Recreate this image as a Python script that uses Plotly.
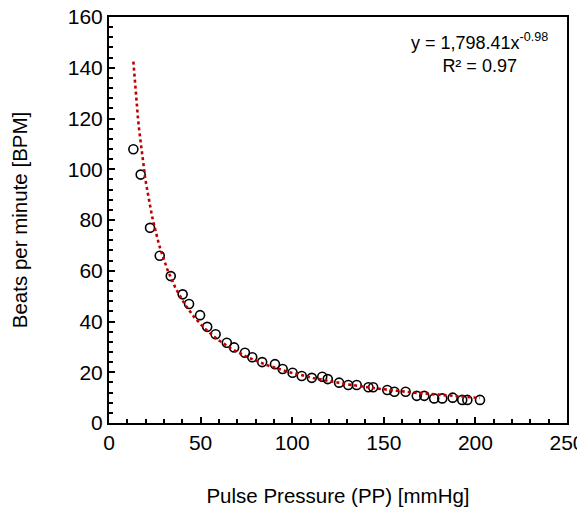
import numpy as np
import plotly.graph_objects as go

# Pulse pressure [mmHg] vs beats per minute [BPM]
pulse_pressure = [13.3, 17.3, 22.4, 27.7, 33.7, 40.2, 43.7, 49.7, 53.6, 58.2,
                  64.3, 68.3, 74.2, 78.2, 83.6, 90.6, 94.8, 100.2, 105.2, 110.7,
                  116.4, 119.4, 125.6, 130.6, 135.2, 141.6, 144.2, 151.9, 155.8, 161.9,
                  168.0, 172.1, 177.5, 181.9, 187.6, 192.8, 195.6, 202.5]
bpm = [107.9, 97.9, 76.9, 65.9, 57.9, 50.7, 46.9, 42.5, 37.9, 35.0,
       31.6, 29.8, 27.7, 25.9, 24.0, 23.2, 21.3, 19.8, 18.5, 17.8,
       18.2, 17.3, 15.9, 15.0, 15.0, 14.1, 14.1, 13.0, 12.3, 12.3,
       10.7, 10.7, 9.7, 9.7, 10.0, 9.1, 9.1, 9.1]

# power-law trendline coefficients as printed on the chart
fit_a = 1798.41
fit_b = -0.98
fit_r2 = 0.97

x_ticks = [0, 50, 100, 150, 200, 250]
y_ticks = [0, 20, 40, 60, 80, 100, 120, 140, 160]

font_family = "Liberation Sans, Arial, sans-serif"

trend_x = np.linspace(min(pulse_pressure), max(pulse_pressure), 300)
trend_y = fit_a * trend_x ** fit_b

fig = go.Figure()
fig.add_trace(go.Scatter(
    x=pulse_pressure, y=bpm, mode="markers",
    marker=dict(symbol="circle-open", size=9, color="black", line=dict(width=1.6)),
    showlegend=False,
))
fig.add_trace(go.Scatter(
    x=trend_x, y=trend_y, mode="lines",
    line=dict(color="#C00000", width=2.6, dash="dot"),
    showlegend=False,
))

axis_common = dict(
    showline=True, linecolor="black", linewidth=2, mirror=True,
    showgrid=False, zeroline=False, automargin=False,
    ticks="inside", ticklen=6, tickwidth=1.5, tickcolor="black",
    ticklabeloverflow="allow",
    tickfont=dict(family=font_family, size=21, color="black"),
)

fig.update_xaxes(
    **axis_common,
    range=[0, 250], tickvals=x_ticks,
    minor=dict(ticks="inside", dtick=10, ticklen=4, tickwidth=1.5, tickcolor="black"),
    title=dict(text="Pulse Pressure (PP) [mmHg]",
               font=dict(family=font_family, size=20.5, color="black"), standoff=35),
)
fig.update_yaxes(
    **axis_common,
    range=[0, 160], tickvals=y_ticks,
    minor=dict(ticks="inside", dtick=4, ticklen=4, tickwidth=1.5, tickcolor="black"),
    title=dict(text="Beats per minute [BPM]",
               font=dict(family=font_family, size=20.5, color="black"), standoff=35),
)

fig.add_annotation(
    xref="paper", yref="paper", x=0.808, y=0.973, xanchor="center", yanchor="top",
    text=f"y = 1,798.41x<sup>{fit_b:.2f}</sup><br>R² = {fit_r2:.2f}",
    showarrow=False, align="center",
    font=dict(family=font_family, size=18, color="black"),
)

# page body adds an 8px offset, so the figure is sized to fit the window
fig.update_layout(
    width=577, height=508,
    margin=dict(l=101, r=18, t=9, b=93),
    plot_bgcolor="white", paper_bgcolor="white",
)

fig.write_html("out.html")
